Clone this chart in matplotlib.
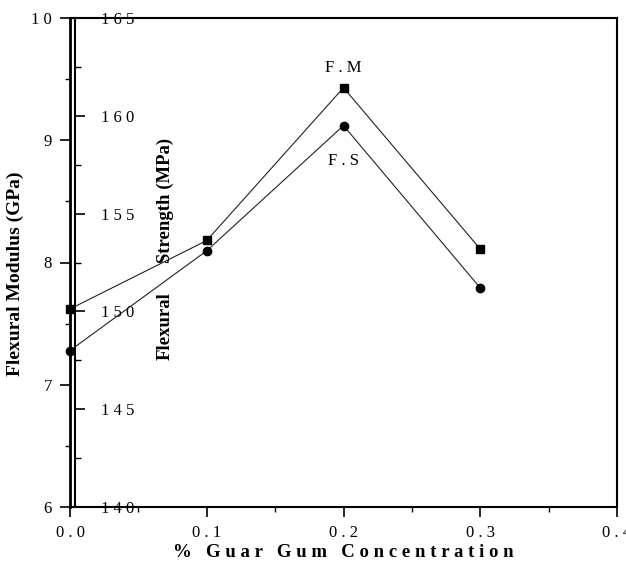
import matplotlib.pyplot as plt
from matplotlib.ticker import MultipleLocator

# === DADOS ===
concentracao = [0.0, 0.1, 0.2, 0.3]
modulo_gpa = [7.62, 8.18, 9.43, 8.11]          # F.M (eixo esquerdo)
resistencia_mpa = [148.0, 153.1, 159.5, 151.2]  # F.S (eixo secundario)
xticks = [0.0, 0.1, 0.2, 0.3, 0.4]
xtick_labels = ['0 . 0', '0 . 1', '0 . 2', '0 . 3', '0 . 4']
yticks_gpa = [6, 7, 8, 9, 10]
yticks_mpa = [140, 145, 150, 155, 160, 165]

serif = 'Liberation Serif'
W, H = 626, 571

fig = plt.figure(figsize=(6.26, 5.71), dpi=100)
ax = fig.add_axes([70 / W, 1 - 507 / H, 547 / W, 489 / H])

ax.plot(concentracao, modulo_gpa, color='#222222', lw=0.8, marker='s',
        ms=6, mfc='black', mec='black', clip_on=False, zorder=5)
ax.set_xlim(0, 0.4)
ax.set_ylim(6, 10)
ax.set_xticks(xticks)
ax.set_xticklabels(xtick_labels, fontfamily=serif, fontsize=12)
ax.set_yticks(yticks_gpa)
ax.set_yticklabels([' '.join(str(v)) for v in yticks_gpa], fontfamily=serif, fontsize=12)
ax.xaxis.set_minor_locator(MultipleLocator(0.05))
ax.yaxis.set_minor_locator(MultipleLocator(0.5))
ax.tick_params(which='major', direction='out', length=7, width=1.2, pad=6)
ax.tick_params(which='minor', direction='out', length=3.5, width=1.0)
for s in ax.spines.values():
    s.set_linewidth(1.5)
ax.spines['left'].set_linewidth(2.0)

ax.set_ylabel('Flexural Modulus (GPa)', fontfamily=serif, fontweight='bold',
              fontsize=14)
ax.yaxis.set_label_coords(-0.084, 0.478)
ax.set_xlabel('%   G u a r   G u m   C o n c e n t r a t i o n',
              fontfamily=serif, fontweight='bold', fontsize=13.5, labelpad=2)

# === EIXO SECUNDARIO ===
ax2 = ax.twinx()
ax2.plot(concentracao, resistencia_mpa, color='#222222', lw=0.8, marker='o',
         ms=6, mfc='black', mec='black', clip_on=False, zorder=5)
ax2.set_ylim(140, 165)
ax2.spines['right'].set_position(('axes', 0.009))
ax2.spines['right'].set_linewidth(1.5)
for nome in ['left', 'top', 'bottom']:
    ax2.spines[nome].set_visible(False)
ax2.set_yticks(yticks_mpa)
ax2.set_yticklabels([' '.join(str(v)) for v in yticks_mpa],
                    fontfamily=serif, fontsize=12)
ax2.yaxis.set_minor_locator(MultipleLocator(2.5))
ax2.tick_params(which='major', direction='out', length=7, width=1.2, pad=12)
ax2.tick_params(which='minor', direction='out', length=4, width=1.0)

# rotulo do eixo secundario (partido como no original)
fig.text(165 / W, 1 - 200 / H, 'Strength (MPa)', rotation=90, ha='center',
         va='center', fontfamily=serif, fontweight='bold', fontsize=13.5)
fig.text(165 / W, 1 - 326 / H, 'Flexural', rotation=90, ha='center',
         va='center', fontfamily=serif, fontweight='bold', fontsize=13.5)

ax.text(0.2, 9.59, 'F . M', ha='center', va='center', fontfamily=serif, fontsize=12)
ax.text(0.2, 8.83, 'F . S', ha='center', va='center', fontfamily=serif, fontsize=12)

fig.savefig('out.png', dpi=100)
